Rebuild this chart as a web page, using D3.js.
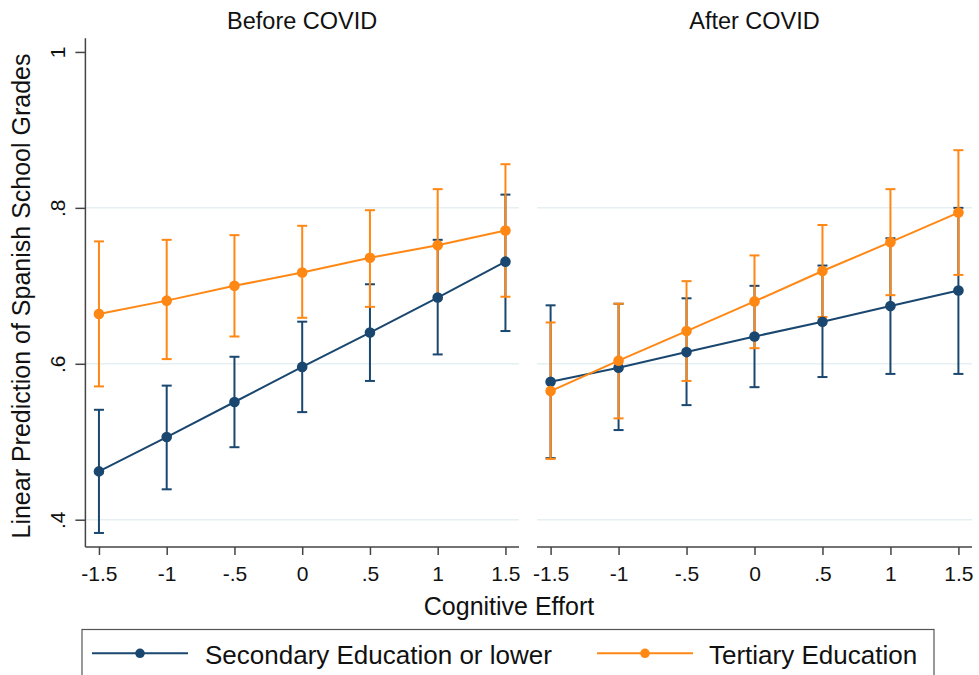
<!DOCTYPE html>
<html>
<head>
<meta charset="utf-8">
<script src="https://cdn.jsdelivr.net/npm/d3@7"></script>
<style>
  html, body { margin: 0; padding: 0; background: #fff; }
  svg { display: block; font-family: "Liberation Sans", Arial, sans-serif; }
</style>
</head>
<body>
<svg id="chart" width="979" height="675"></svg>
<script>
// ---- data ----
const xValues = [-1.5, -1, -0.5, 0, 0.5, 1, 1.5];
const xTickLabels = ["-1.5", "-1", "-.5", "0", ".5", "1", "1.5"];
const yTicks = [0.4, 0.6, 0.8, 1];
const yTickLabels = [".4", ".6", ".8", "1"];
const gridValues = [0.4, 0.6, 0.8];
const panelTitles = ["Before COVID", "After COVID"];
const seriesNames = ["Secondary Education or lower", "Tertiary Education"];

const beforeSec   = [0.462, 0.506, 0.551, 0.596, 0.640, 0.685, 0.731];
const beforeSecLo = [0.383, 0.439, 0.493, 0.538, 0.578, 0.612, 0.642];
const beforeSecHi = [0.541, 0.572, 0.609, 0.654, 0.702, 0.759, 0.817];
const beforeTer   = [0.664, 0.681, 0.700, 0.717, 0.736, 0.752, 0.771];
const beforeTerLo = [0.571, 0.606, 0.635, 0.659, 0.673, 0.683, 0.686];
const beforeTerHi = [0.757, 0.759, 0.765, 0.777, 0.797, 0.824, 0.856];

const afterSec   = [0.577, 0.595, 0.615, 0.635, 0.654, 0.674, 0.694];
const afterSecLo = [0.479, 0.515, 0.547, 0.570, 0.583, 0.587, 0.587];
const afterSecHi = [0.675, 0.677, 0.684, 0.700, 0.726, 0.761, 0.800];
const afterTer   = [0.565, 0.604, 0.642, 0.680, 0.719, 0.756, 0.794];
const afterTerLo = [0.478, 0.530, 0.578, 0.620, 0.660, 0.688, 0.714];
const afterTerHi = [0.653, 0.677, 0.706, 0.739, 0.778, 0.824, 0.874];

const colors = ["#1a476f", "#ff8714"];

// ---- build ----
const svg = d3.select("#chart");
const yTop = 38.3, yBottom = 547;
const y = d3.scaleLinear().domain([0.365, 1.0175]).range([yBottom, yTop]);

const panels = [
  { title: panelTitles[0], x0: 85.4, x1: 519, showY: true,
    series: [
      { mean: beforeSec, lo: beforeSecLo, hi: beforeSecHi, color: colors[0] },
      { mean: beforeTer, lo: beforeTerLo, hi: beforeTerHi, color: colors[1] } ] },
  { title: panelTitles[1], x0: 537, x1: 972, showY: false,
    series: [
      { mean: afterSec, lo: afterSecLo, hi: afterSecHi, color: colors[0] },
      { mean: afterTer, lo: afterTerLo, hi: afterTerHi, color: colors[1] } ] }
];

panels.forEach(p => {
  const x = d3.scaleLinear().domain([-1.6, 1.6]).range([p.x0, p.x1]);
  const g = svg.append("g");

  // gridlines
  g.selectAll("line.grid").data(gridValues).enter().append("line")
    .attr("x1", p.x0).attr("x2", p.x1)
    .attr("y1", d => y(d)).attr("y2", d => y(d))
    .attr("stroke", "#e6eff1").attr("stroke-width", 1.5);

  // title
  g.append("text").attr("x", (p.x0 + p.x1) / 2).attr("y", 29)
    .attr("text-anchor", "middle").attr("font-size", 23.5).attr("fill", "#111")
    .text(p.title);

  // x axis
  const xAxis = d3.axisBottom(x).tickValues(xValues)
    .tickFormat((d, i) => xTickLabels[i]).tickSize(8).tickPadding(11);
  const xg = g.append("g").attr("transform", `translate(0,${yBottom})`).call(xAxis);
  xg.select(".domain").attr("d", `M${p.x0},0H${p.x1}`).attr("stroke", "#444").attr("stroke-width", 1.5);
  xg.selectAll(".tick line").attr("stroke", "#444").attr("stroke-width", 1.5);
  xg.selectAll(".tick text").attr("font-size", 21).attr("fill", "#111")
    .attr("font-family", "Liberation Sans, Arial, sans-serif");

  // y axis (left panel only)
  if (p.showY) {
    const yAxis = d3.axisLeft(y).tickValues(yTicks)
      .tickFormat((d, i) => yTickLabels[i]).tickSize(10);
    const yg = g.append("g").attr("transform", `translate(${p.x0},0)`).call(yAxis);
    yg.select(".domain").attr("d", `M0,${yTop}V${yBottom}`).attr("stroke", "#444").attr("stroke-width", 1.5);
    yg.selectAll(".tick line").attr("stroke", "#444").attr("stroke-width", 1.5);
    yg.selectAll(".tick text").remove();
    yg.selectAll(".tick").append("text")
      .attr("transform", "translate(-20,0) rotate(-90)")
      .attr("text-anchor", "middle").attr("dy", 0)
      .attr("font-size", 21).attr("fill", "#111")
      .attr("font-family", "Liberation Sans, Arial, sans-serif")
      .text((d, i) => yTickLabels[i]);
  }

  // CIs: secondary first, tertiary on top
  p.series.forEach(s => {
    const ci = g.append("g");
    xValues.forEach((xv, i) => {
      const cx = x(xv);
      ci.append("line").attr("x1", cx).attr("x2", cx)
        .attr("y1", y(s.lo[i])).attr("y2", y(s.hi[i]))
        .attr("stroke", s.color).attr("stroke-width", 2);
      [s.lo[i], s.hi[i]].forEach(v => {
        ci.append("line").attr("x1", cx - 5).attr("x2", cx + 5)
          .attr("y1", y(v)).attr("y2", y(v))
          .attr("stroke", s.color).attr("stroke-width", 2);
      });
    });
  });

  // lines + markers
  p.series.forEach(s => {
    const pts = xValues.map((xv, i) => [x(xv), y(s.mean[i])]);
    g.append("path").attr("d", d3.line()(pts))
      .attr("fill", "none").attr("stroke", s.color).attr("stroke-width", 2);
    g.selectAll(null).data(pts).enter().append("circle")
      .attr("cx", d => d[0]).attr("cy", d => d[1]).attr("r", 5.3)
      .attr("fill", s.color);
  });
});

// y axis title
svg.append("text")
  .attr("transform", "translate(30,296) rotate(-90)")
  .attr("text-anchor", "middle").attr("font-size", 25).attr("fill", "#111")
  .text("Linear Prediction of Spanish School Grades");

// x axis title
svg.append("text").attr("x", 509).attr("y", 615)
  .attr("text-anchor", "middle").attr("font-size", 25).attr("fill", "#111")
  .text("Cognitive Effort");

// legend
const lg = svg.append("g");
lg.append("rect").attr("x", 82).attr("y", 629.5).attr("width", 852).attr("height", 60)
  .attr("fill", "#fff").attr("stroke", "#555").attr("stroke-width", 1.2);
const legendItems = [
  { name: seriesNames[0], color: colors[0], lx0: 92, lx1: 188, tx: 205 },
  { name: seriesNames[1], color: colors[1], lx0: 597, lx1: 693, tx: 709 }
];
legendItems.forEach(it => {
  lg.append("line").attr("x1", it.lx0).attr("x2", it.lx1).attr("y1", 653.3).attr("y2", 653.3)
    .attr("stroke", it.color).attr("stroke-width", 2);
  lg.append("circle").attr("cx", (it.lx0 + it.lx1) / 2).attr("cy", 653.3).attr("r", 4.8)
    .attr("fill", it.color);
  lg.append("text").attr("x", it.tx).attr("y", 663.5).attr("font-size", 26).attr("fill", "#111")
    .text(it.name);
});
</script>
</body>
</html>
